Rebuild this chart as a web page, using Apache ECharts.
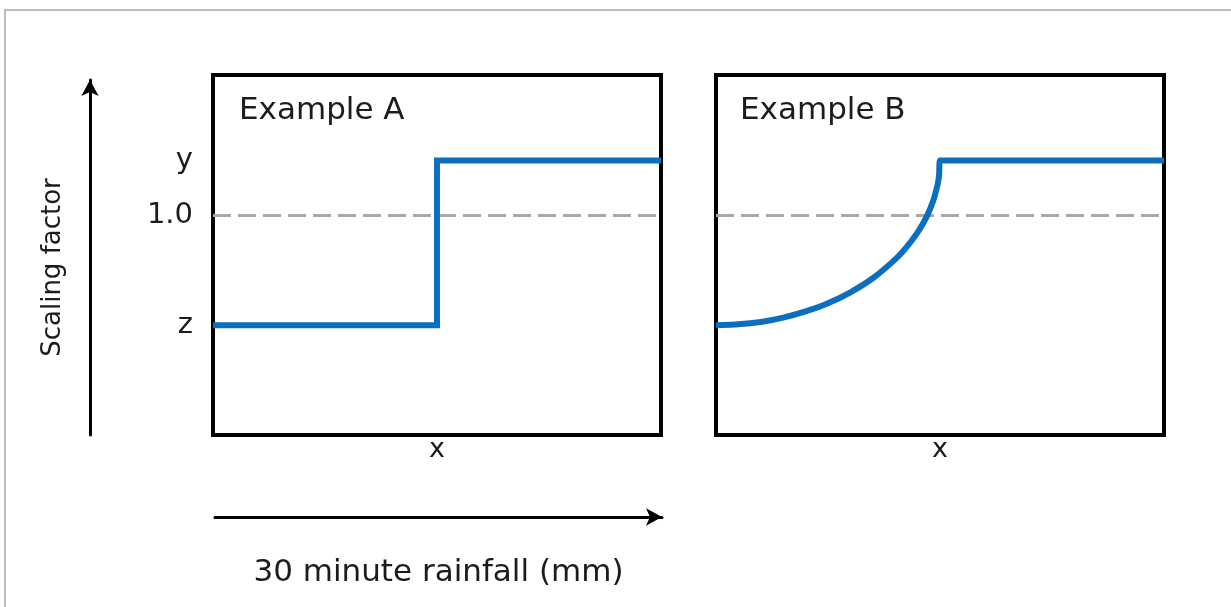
<!DOCTYPE html>
<html>
<head>
<meta charset="utf-8">
<script src="https://cdn.jsdelivr.net/npm/echarts@6/dist/echarts.min.js"></script>
<style>
html,body{margin:0;padding:0;background:#fff;}
#c{width:1231px;height:607px;}
</style>
</head>
<body>
<div id="c"></div>
<script>
// ---- data ----
var panelTitles = ['Example A', 'Example B'];
var xTickValues = [0.5];
var xTickLabels = ['x'];
var yTickValues = [0.5, 1.0, 1.25];
var yTickLabels = ['z', '1.0', 'y'];
var refLevel = 1.0;
// Example A: step function (x, scaling factor)
var stepX = [0, 0.5, 0.5, 1.0];
var stepY = [0.5, 0.5, 1.25, 1.25];
// Example B: curved rise then flat
var curveX = [0, 0.05, 0.10, 0.15, 0.20, 0.25, 0.30, 0.35, 0.40, 0.425, 0.45, 0.47, 0.485, 0.495, 0.498, 0.5, 1.0];
var curveY = [0.50, 0.504, 0.515, 0.535, 0.563, 0.600, 0.650, 0.714, 0.800, 0.855, 0.923, 0.994, 1.068, 1.144, 1.183, 1.25, 1.25];
var xAxisTitle = '30 minute rainfall (mm)';
var yAxisTitle = 'Scaling factor';

function pairs(xs, ys){ return xs.map(function(x,i){ return [x, ys[i]]; }); }

var FONT = '"DejaVu Sans", "Open Sans", sans-serif';
var TXT = '#1c1c1c';
var BLUE = '#0b6fc0';

function lookup(vals, labels){
  return function(v){
    for (var i=0;i<vals.length;i++){ if (Math.abs(vals[i]-v) < 1e-6) return labels[i]; }
    return '';
  };
}

var chart = echarts.init(document.getElementById('c'), null, {renderer:'canvas'});

var gridBase = {show:true, borderColor:'#000', borderWidth:4, backgroundColor:'transparent', containLabel:false};

function panelX(idx){
  return {
    type:'value', gridIndex:idx, min:0, max:1, interval:0.5,
    axisLine:{show:false}, axisTick:{show:false}, splitLine:{show:false},
    axisLabel:{show:true, margin:1, fontSize:27, fontFamily:FONT, color:TXT,
      formatter: lookup(xTickValues, xTickLabels), showMinLabel:true, showMaxLabel:true}
  };
}
function panelY(idx, showLabels){
  return {
    type:'value', gridIndex:idx, min:0, max:1.64, interval:0.25,
    axisLine:{show:false}, axisTick:{show:false}, splitLine:{show:false},
    axisLabel:{show:showLabels, margin:20, fontSize:29, fontFamily:FONT, color:TXT,
      formatter: lookup(yTickValues, yTickLabels), showMaxLabel:false}
  };
}

var option = {
  backgroundColor:'#fff',
  animation:false,
  title:[
    {text:panelTitles[0], left:239, top:95, padding:0, textStyle:{fontSize:31, fontWeight:'normal', fontFamily:FONT, color:TXT}},
    {text:panelTitles[1], left:740, top:95, padding:0, textStyle:{fontSize:31, fontWeight:'normal', fontFamily:FONT, color:TXT}}
  ],
  graphic:[
    {type:'rect', silent:true, z:-10, shape:{x:5, y:10, width:1400, height:800}, style:{fill:'none', stroke:'#bdbdbd', lineWidth:2}}
  ],
  grid:[
    Object.assign({left:213, top:75, width:448, height:360}, gridBase),
    Object.assign({left:716, top:75, width:448, height:360}, gridBase),
    {left:215, top:516, width:447, height:1, show:false},
    {left:90, top:80, width:1, height:355, show:false}
  ],
  xAxis:[
    panelX(0), panelX(1),
    {type:'value', gridIndex:2, min:0, max:1, position:'bottom',
      axisLine:{show:true, lineStyle:{color:'#000', width:3}, symbol:['none','arrow'], symbolSize:[13,16]},
      axisTick:{show:false}, axisLabel:{show:false}, splitLine:{show:false},
      name:xAxisTitle, nameLocation:'middle', nameGap:40,
      nameTextStyle:{fontSize:31, fontFamily:FONT, color:TXT}},
    {type:'value', gridIndex:3, min:0, max:1, show:false}
  ],
  yAxis:[
    panelY(0, true), panelY(1, false),
    {type:'value', gridIndex:2, min:0, max:1, show:false},
    {type:'value', gridIndex:3, min:0, max:1, position:'left',
      axisLine:{show:true, lineStyle:{color:'#000', width:3}, symbol:['none','arrow'], symbolSize:[13,16]},
      axisTick:{show:false}, axisLabel:{show:false}, splitLine:{show:false},
      name:yAxisTitle, nameLocation:'middle', nameGap:24, nameRotate:90,
      nameTextStyle:{fontSize:26, fontFamily:FONT, color:TXT, padding:[0,20,0,0]}}
  ],
  series:[
    {type:'line', xAxisIndex:0, yAxisIndex:0, z:1, symbol:'none', silent:true,
      data:[[0,refLevel],[1,refLevel]], lineStyle:{color:'#a9a9a9', width:3, type:[18,7]}},
    {type:'line', xAxisIndex:0, yAxisIndex:0, z:3, symbol:'none', silent:true,
      data:pairs(stepX, stepY), lineStyle:{color:BLUE, width:6, join:'miter', cap:'butt'}},
    {type:'line', xAxisIndex:1, yAxisIndex:1, z:1, symbol:'none', silent:true,
      data:[[0,refLevel],[1,refLevel]], lineStyle:{color:'#a9a9a9', width:3, type:[18,7]}},
    {type:'line', xAxisIndex:1, yAxisIndex:1, z:3, symbol:'none', silent:true, smooth:0.2,
      data:pairs(curveX, curveY), lineStyle:{color:BLUE, width:6, join:'round'}}
  ]
};
chart.setOption(option);
</script>
</body>
</html>
